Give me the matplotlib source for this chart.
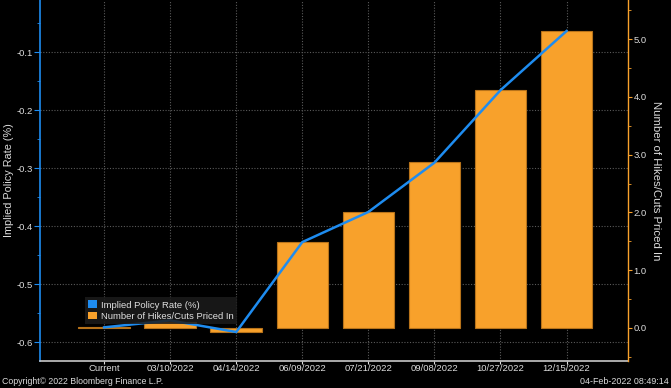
import matplotlib
matplotlib.use("Agg")
import matplotlib.pyplot as plt
from matplotlib.patches import Patch
from matplotlib.ticker import MultipleLocator, FormatStrFormatter

plt.rcParams['font.family'] = ['Liberation Sans', 'DejaVu Sans']

# meeting dates
dates = ['Current', '03/10/2022', '04/14/2022', '06/09/2022',
         '07/21/2022', '09/08/2022', '10/27/2022', '12/15/2022']
# implied policy rate (%), left axis
rates = [-0.574, -0.562, -0.582, -0.427, -0.375, -0.290, -0.165, -0.063]
# number of hikes/cuts priced in, right axis
hikes = [0.02, 0.10, -0.07, 1.49, 2.01, 2.88, 4.12, 5.14]

blue = '#1E8CF0'
orange = '#F8A12B'
txt = '#dcdcdc'

fig = plt.figure(figsize=(6.71, 3.88), dpi=100, facecolor='black')
ax = fig.add_axes([40 / 671, 27 / 388, 588 / 671, 361 / 388])
ax.set_facecolor('black')
ax2 = ax.twinx()
ax.set_zorder(1)
ax2.set_zorder(2)
ax2.patch.set_visible(False)

x = list(range(len(dates)))

# bars (right axis) over the grid, line on top of bars
ax2.bar(x, hikes, width=0.78, color=orange, edgecolor='#B8731A',
        linewidth=0.8, zorder=2)
ax2.plot(x, rates, color=blue, lw=1.8, transform=ax.transData, zorder=3)

ax.set_xlim(-0.97, 7.93)
ax.set_ylim(-0.632, -0.0095)
ax2.set_ylim(-0.571, 5.675)

ax.set_xticks(x)
ax.set_xticklabels(dates)
ax.yaxis.set_major_locator(MultipleLocator(0.1))
ax.yaxis.set_minor_locator(MultipleLocator(0.05))
ax.yaxis.set_major_formatter(FormatStrFormatter('%.1f'))
ax2.yaxis.set_major_locator(MultipleLocator(1.0))
ax2.yaxis.set_minor_locator(MultipleLocator(0.5))
ax2.yaxis.set_major_formatter(FormatStrFormatter('%.1f'))

ax.grid(True, which='major', color='#5a5a5a', linestyle=(0, (1, 1.5)),
        linewidth=0.8)

for s in ['top', 'right']:
    ax.spines[s].set_visible(False)
ax.spines['left'].set_color(blue)
ax.spines['left'].set_linewidth(1.2)
ax.spines['bottom'].set_color('#c8c8c8')
ax.spines['bottom'].set_linewidth(1.2)
for s in ['top', 'left', 'bottom']:
    ax2.spines[s].set_visible(False)
ax2.spines['right'].set_color(orange)
ax2.spines['right'].set_linewidth(1.0)

ax.tick_params(axis='y', which='both', colors=blue, labelcolor=txt,
               labelsize=6.8, direction='out', pad=1)
ax.tick_params(axis='y', which='major', length=4)
ax.tick_params(axis='y', which='minor', length=2)
ax.tick_params(axis='x', colors='#dddddd', labelcolor=txt, labelsize=6.8,
               length=2, pad=0.5)
ax2.tick_params(axis='y', which='both', colors=orange, labelcolor=txt,
                labelsize=6.8, direction='out', pad=1)
ax2.tick_params(axis='y', which='major', length=3)
ax2.tick_params(axis='y', which='minor', length=2)

ax.set_ylabel('Implied Policy Rate (%)', color=txt, fontsize=7.8, labelpad=2)
ax2.set_ylabel('Number of Hikes/Cuts Priced In', color=txt, fontsize=8.2,
               rotation=270, labelpad=10)

handles = [Patch(facecolor=blue), Patch(facecolor=orange)]
labels = ['Implied Policy Rate (%)', 'Number of Hikes/Cuts Priced In']
leg = ax2.legend(handles, labels, loc='lower left',
                 bbox_to_anchor=(0.0765, 0.1025), borderaxespad=0,
                 frameon=True, fancybox=False, facecolor='#1c1c1c',
                 edgecolor='none', framealpha=0.85, fontsize=6.8,
                 labelcolor='#e0e0e0', handlelength=0.9, handleheight=0.9,
                 handletextpad=0.4, borderpad=0.35, labelspacing=0.2)

fig.text(0.003, 0.004, 'Copyright\u00a9 2022 Bloomberg Finance L.P.',
         color=txt, fontsize=6.3, ha='left', va='bottom')
fig.text(0.997, 0.004, '04-Feb-2022 08:49:14', color=txt, fontsize=6.4,
         ha='right', va='bottom')

fig.savefig('out.png', dpi=100, facecolor='black')
